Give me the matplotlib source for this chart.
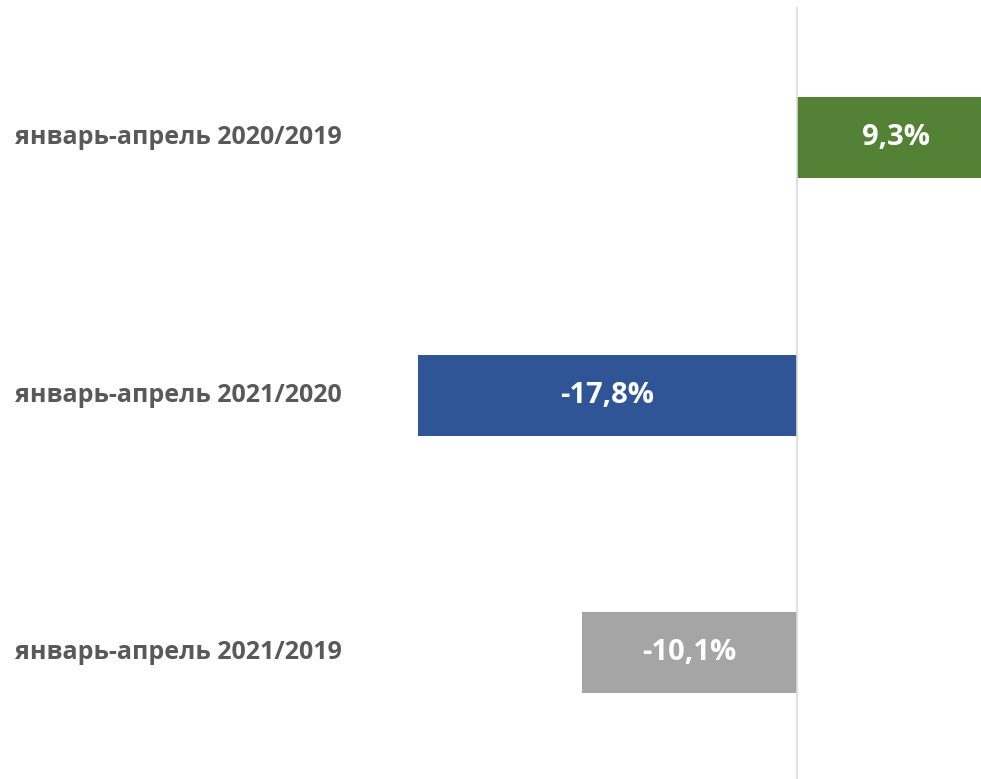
import matplotlib.pyplot as plt
import matplotlib.transforms as mtransforms

periods = ['январь-апрель 2020/2019', 'январь-апрель 2021/2020', 'январь-апрель 2021/2019']
changes = [9.3, -17.8, -10.1]
colors = ['#538135', '#2F5597', '#A5A5A5']
value_labels = ['9,3%', '-17,8%', '-10,1%']

plt.rcParams['font.family'] = ['Open Sans', 'DejaVu Sans']

fig = plt.figure(figsize=(9.81, 7.79), dpi=100)
ax = fig.add_axes([0, 0, 1, 1])

ypos = list(range(len(periods)))
ax.barh(ypos, changes, height=0.314, color=colors, zorder=2)
ax.set_xlim(-37.4, 8.64)
ax.set_ylim(2.489, -0.533)

# zero line
ax.axvline(0, ymin=0, ymax=0.99, color='#d9d9d9', lw=1.2, zorder=3)

for y, v, lab in zip(ypos, changes, value_labels):
    ax.text(v / 2, y, lab, ha='center', va='center', color='white',
            fontsize=21, fontweight='bold', zorder=4)

trans = mtransforms.blended_transform_factory(ax.transAxes, ax.transData)
for y, name in zip(ypos, periods):
    ax.text(15 / 981, y, name, transform=trans, ha='left', va='center',
            color='#595959', fontsize=18, fontweight='bold')

ax.axis('off')
fig.savefig('out.png', dpi=100)
